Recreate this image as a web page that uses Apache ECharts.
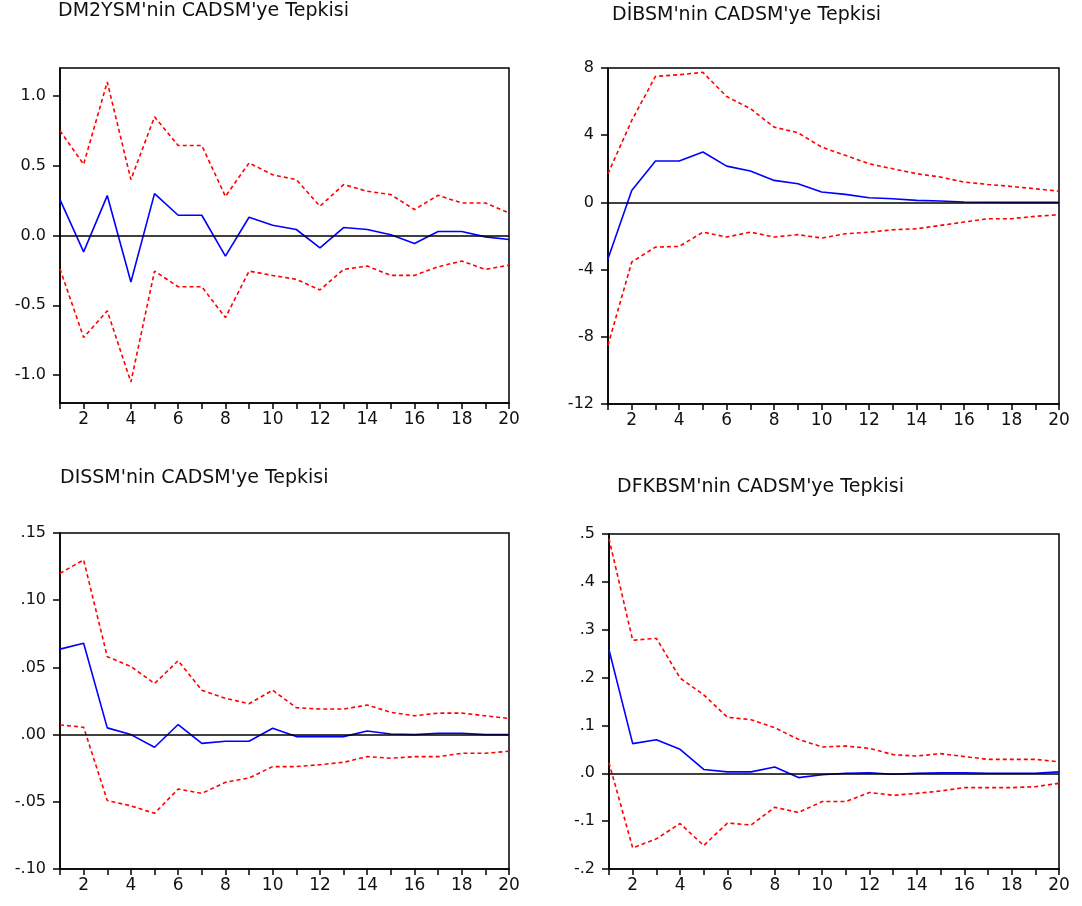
<!DOCTYPE html>
<html>
<head>
<meta charset="utf-8">
<title>Etki-Tepki Fonksiyonları</title>
<script src="https://cdn.jsdelivr.net/npm/echarts@6/dist/echarts.min.js"></script>
<style>
  html, body { margin: 0; padding: 0; background: #fff; }
  #chart { width: 1082px; height: 906px; }
</style>
</head>
<body>
<div id="chart"></div>
<script>
// Periods 1..20
const periods = ['1','2','3','4','5','6','7','8','9','10','11','12','13','14','15','16','17','18','19','20'];

// DM2YSM response to CADSM
const dm2Upper = [0.75, 0.51, 1.10, 0.40, 0.85, 0.645, 0.645, 0.28, 0.52, 0.435, 0.40, 0.21, 0.365, 0.317, 0.293, 0.186, 0.288, 0.233, 0.233, 0.162];
const dm2Resp  = [0.257, -0.117, 0.286, -0.333, 0.30, 0.145, 0.145, -0.148, 0.131, 0.074, 0.043, -0.088, 0.057, 0.043, 0.005, -0.057, 0.029, 0.029, -0.01, -0.029];
const dm2Lower = [-0.24, -0.73, -0.54, -1.05, -0.255, -0.367, -0.367, -0.588, -0.255, -0.286, -0.314, -0.39, -0.243, -0.219, -0.286, -0.286, -0.224, -0.183, -0.243, -0.212];

// DİBSM response to CADSM
const dibUpper = [1.71, 4.88, 7.5, 7.6, 7.74, 6.3, 5.58, 4.48, 4.15, 3.29, 2.8, 2.3, 2.0, 1.71, 1.51, 1.21, 1.07, 0.95, 0.81, 0.67];
const dibResp  = [-3.35, 0.71, 2.46, 2.46, 3.0, 2.16, 1.87, 1.31, 1.11, 0.62, 0.48, 0.28, 0.22, 0.12, 0.08, 0.02, 0.01, 0.0, 0.0, 0.0];
const dibLower = [-8.5, -3.55, -2.66, -2.62, -1.77, -2.06, -1.77, -2.06, -1.92, -2.12, -1.87, -1.77, -1.63, -1.57, -1.37, -1.17, -0.97, -0.97, -0.83, -0.73];

// DISSM response to CADSM
const disUpper = [0.120, 0.130, 0.058, 0.0507, 0.038, 0.055, 0.033, 0.027, 0.023, 0.033, 0.020, 0.019, 0.019, 0.022, 0.0166, 0.014, 0.016, 0.016, 0.014, 0.012];
const disResp  = [0.0636, 0.068, 0.005, 0.0, -0.0094, 0.0075, -0.0065, -0.005, -0.005, 0.0047, -0.0015, -0.0015, -0.0015, 0.0027, 0.0005, 0.0, 0.001, 0.001, 0.0, 0.0];
const disLower = [0.0072, 0.0055, -0.049, -0.053, -0.0586, -0.0405, -0.0437, -0.0355, -0.0323, -0.0238, -0.0238, -0.0224, -0.0206, -0.0164, -0.0176, -0.0164, -0.0164, -0.0139, -0.0139, -0.0124];

// DFKBSM response to CADSM
const dfkUpper = [0.49, 0.278, 0.282, 0.199, 0.164, 0.117, 0.112, 0.095, 0.071, 0.055, 0.057, 0.052, 0.039, 0.036, 0.041, 0.035, 0.029, 0.029, 0.029, 0.024];
const dfkResp  = [0.258, 0.062, 0.070, 0.050, 0.008, 0.003, 0.003, 0.013, -0.009, -0.003, 0.0, 0.001, -0.002, 0.0, 0.001, 0.001, 0.0, 0.0, 0.0, 0.003];
const dfkLower = [0.022, -0.156, -0.137, -0.105, -0.151, -0.104, -0.108, -0.071, -0.082, -0.059, -0.059, -0.040, -0.046, -0.042, -0.037, -0.030, -0.030, -0.030, -0.028, -0.021];

// Panel titles
const titles = [
  "DM2YSM'nin CADSM'ye Tepkisi",
  "DİBSM'nin CADSM'ye Tepkisi",
  "DISSM'nin CADSM'ye Tepkisi",
  "DFKBSM'nin CADSM'ye Tepkisi"
];

// Y tick values
const dm2Ticks = [-1.0, -0.5, 0.0, 0.5, 1.0];
const dibTicks = [-12, -8, -4, 0, 4, 8];
const disTicks = [-0.10, -0.05, 0.00, 0.05, 0.10, 0.15];
const dfkTicks = [-0.2, -0.1, 0.0, 0.1, 0.2, 0.3, 0.4, 0.5];

const FONT = "'DejaVu Sans', Verdana, sans-serif";
const INK = '#111';

// Decimal label without the leading zero (".05", "-.10")
function noLeadZero(digits) {
  return function (v) {
    const r = Math.round(v * Math.pow(10, digits)) / Math.pow(10, digits);
    const s = Math.abs(r).toFixed(digits).replace(/^0/, '');
    return (r < 0 ? '-' : '') + s;
  };
}

const panels = [
  { grid: { left: 60, top: 68, width: 449, height: 335 }, ticks: dm2Ticks, min: -1.2, max: 1.2,
    fmt: v => v.toFixed(1), data: [dm2Upper, dm2Lower, dm2Resp], title: { left: 58, top: 2 } },
  { grid: { left: 608, top: 68, width: 451, height: 336 }, ticks: dibTicks, min: -12, max: 8,
    fmt: v => String(Math.round(v)), data: [dibUpper, dibLower, dibResp], title: { left: 612, top: 6 } },
  { grid: { left: 60, top: 533, width: 449, height: 336 }, ticks: disTicks, min: -0.10, max: 0.15,
    fmt: noLeadZero(2), data: [disUpper, disLower, disResp], title: { left: 60, top: 469 } },
  { grid: { left: 609, top: 534, width: 450, height: 335 }, ticks: dfkTicks, min: -0.2, max: 0.5,
    fmt: noLeadZero(1), data: [dfkUpper, dfkLower, dfkResp], title: { left: 617, top: 478 } }
];

const option = {
  animation: false,
  backgroundColor: '#fff',
  title: [],
  grid: [],
  xAxis: [],
  yAxis: [],
  series: []
};

panels.forEach((p, i) => {
  option.title.push({
    text: titles[i], left: p.title.left, top: p.title.top, padding: 0,
    textStyle: { fontFamily: FONT, fontSize: 19, fontWeight: 'normal', color: INK }
  });
  option.grid.push(Object.assign({ show: true, borderColor: '#000', borderWidth: 1.5, containLabel: false }, p.grid));
  option.xAxis.push({
    type: 'category', gridIndex: i, data: periods, boundaryGap: false,
    axisLine: { show: true, onZero: false, lineStyle: { color: '#000', width: 1.5 } },
    axisTick: { show: true, interval: 0, length: 6, lineStyle: { color: '#000', width: 1.5 } },
    axisLabel: { interval: idx => idx % 2 === 1, margin: 8, color: INK, fontFamily: FONT, fontSize: 17 },
    splitLine: { show: false }
  });
  option.yAxis.push({
    type: 'value', gridIndex: i, min: p.min, max: p.max,
    axisLine: { show: true, lineStyle: { color: '#000', width: 1.5 } },
    axisTick: { show: true, length: 7, customValues: p.ticks, lineStyle: { color: '#000', width: 1.5 } },
    axisLabel: { customValues: p.ticks, formatter: p.fmt, margin: 14, color: INK, fontFamily: FONT, fontSize: 16 },
    splitLine: { show: false }
  });
  const [up, lo, resp] = p.data;
  const band = { color: '#ff0000', width: 1.6, type: [4, 3] };
  option.series.push({
    type: 'line', xAxisIndex: i, yAxisIndex: i, data: up, symbol: 'none',
    lineStyle: band, silent: true,
    markLine: {
      silent: true, symbol: 'none', label: { show: false },
      lineStyle: { color: '#000', width: 1.5, type: 'solid' },
      data: [{ yAxis: 0 }]
    }
  });
  option.series.push({
    type: 'line', xAxisIndex: i, yAxisIndex: i, data: lo, symbol: 'none',
    lineStyle: band, silent: true
  });
  option.series.push({
    type: 'line', xAxisIndex: i, yAxisIndex: i, data: resp, symbol: 'none',
    lineStyle: { color: '#0000ff', width: 1.6, type: 'solid' }, silent: true
  });
});

const chart = echarts.init(document.getElementById('chart'), null, { renderer: 'canvas' });
chart.setOption(option);
</script>
</body>
</html>
